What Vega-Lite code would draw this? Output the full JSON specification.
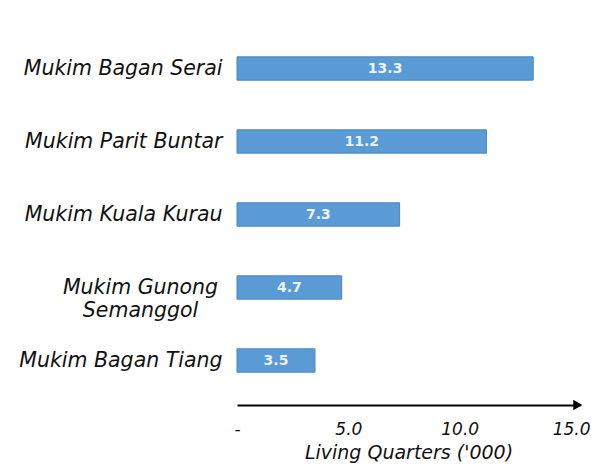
{
  "$schema": "https://vega.github.io/schema/vega-lite/v6.json",
  "width": 343,
  "height": 365,
  "autosize": {"type": "none"},
  "padding": {"left": 237, "top": 32, "right": 27, "bottom": 73},
  "background": "white",
  "config": {"view": {"stroke": null}},
  "data": {"values": [
    {"area": "Mukim Bagan Serai", "quarters": 13.3},
    {"area": "Mukim Parit Buntar", "quarters": 11.2},
    {"area": "Mukim Kuala Kurau", "quarters": 7.3},
    {"area": "Mukim Gunong Semanggol", "quarters": 4.7},
    {"area": "Mukim Bagan Tiang", "quarters": 3.5}
  ]},
  "encoding": {
    "y": {
      "field": "area", "type": "nominal", "sort": null,
      "scale": {"paddingInner": 0.68, "paddingOuter": 0.34},
      "axis": {
        "title": null, "domain": false, "ticks": false, "grid": false,
        "labelFont": "DejaVu Sans", "labelFontStyle": "italic", "labelFontSize": 20.5,
        "labelColor": "#111111", "labelLimit": 300,
        "labelExpr": "datum.label == 'Mukim Gunong Semanggol' ? ['Mukim Gunong', 'Semanggol'] : datum.label",
        "labelAlign": {"condition": {"test": "datum.label == 'Mukim Gunong Semanggol'", "value": "center"}, "value": "right"},
        "labelPadding": {"condition": {"test": "datum.label == 'Mukim Gunong Semanggol'", "value": 97}, "value": 15},
        "labelLineHeight": 23
      }
    }
  },
  "layer": [
    {
      "mark": {"type": "bar", "color": "#5b9bd5", "stroke": "#4a86c0", "strokeWidth": 1},
      "encoding": {
        "x": {
          "field": "quarters", "type": "quantitative",
          "scale": {"domain": [0, 15.4], "nice": false},
          "axis": {
            "title": "Living Quarters ('000)",
            "values": [0, 5, 10, 15],
            "labelExpr": "datum.value == 0 ? '-' : format(datum.value, '.1f')",
            "grid": false, "ticks": false,
            "domain": true, "domainColor": "#000000", "domainWidth": 2,
            "offset": 8,
            "labelFont": "DejaVu Sans", "labelFontStyle": "italic", "labelFontSize": 17,
            "labelColor": "#111111", "labelPadding": 16, "labelFlush": false,
            "titleFont": "DejaVu Sans", "titleFontStyle": "italic", "titleFontWeight": "normal",
            "titleFontSize": 19, "titleColor": "#111111", "titlePadding": 6
          }
        }
      }
    },
    {
      "mark": {"type": "text", "color": "#eef4fb", "fontSize": 14, "fontWeight": "bold", "font": "DejaVu Sans"},
      "transform": [{"calculate": "datum.quarters / 2", "as": "mid"}],
      "encoding": {
        "x": {"field": "mid", "type": "quantitative"},
        "text": {"field": "quarters", "type": "quantitative", "format": ".1f"}
      }
    },
    {
      "data": {"values": [{"tip": 15.3}]},
      "mark": {"type": "point", "shape": "triangle-right", "filled": true, "color": "#000000", "size": 110, "opacity": 1, "clip": false},
      "encoding": {
        "x": {"field": "tip", "type": "quantitative"},
        "y": {"value": {"expr": "height + 8"}}
      }
    }
  ]
}
